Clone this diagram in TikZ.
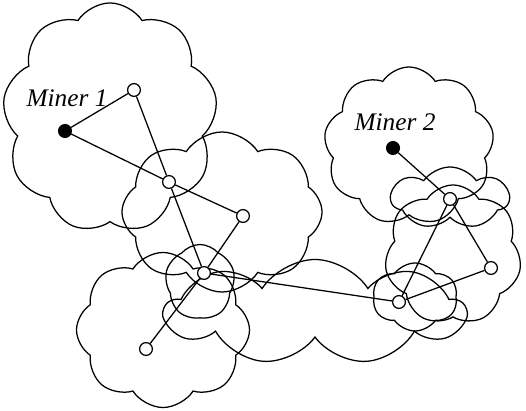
\documentclass[tikz,border=0pt]{standalone}
\usepackage{fontspec}
\setmainfont{Liberation Serif}
\usetikzlibrary{positioning, shapes.symbols}
\tikzset{
  peer/.style={draw, circle, fill=white, inner sep=0pt, minimum size=0.32cm},
  miner/.style={peer, fill=black},
  zone/.style={draw, cloud, cloud puffs=#1, cloud puff arc=115, cloud ignores aspect, inner sep=0pt},
  zone/.default=9,
  label/.style={font=\fontsize{18}{20}\selectfont\itshape}
}

\begin{document}
\begin{tikzpicture}[x=0.025cm, y=-0.025cm, line width=0.9pt]
      \useasboundingbox (0,0) rectangle (526,411);

      % ranges
      \node[zone=9, minimum width=5.375cm, minimum height=5.75cm] (r1) at (110,118) {};
      \node[zone=8, minimum width=5cm, minimum height=4cm] (r2) at (222,212) {};
      \node[zone=5, cloud puff arc=100, minimum width=1.75cm, minimum height=1.875cm] (r3) at (200,282) {};
      \node[zone=8, minimum width=4.325cm, minimum height=3.875cm] (r4) at (163,330) {};
      \node[zone=9, minimum width=7.5cm, minimum height=2.625cm] (r5) at (315,312) {};
      \node[zone=6, cloud puff arc=110, minimum width=2.125cm, minimum height=1.7cm] (r6) at (415,297) {};
      \node[zone=9, minimum width=4.25cm, minimum height=3.95cm] (r7) at (409,146) {};
      \node[zone=7, cloud puff arc=110, minimum width=2.95cm, minimum height=1.55cm] (r8) at (450,198) {};
      \node[zone=7, minimum width=3.425cm, minimum height=3.5cm] (r9) at (453,255) {};

      % peers
      \node[miner] (m1) at (65,131) {};
      \node[peer] (a) at (134,90) {};
      \node[peer] (b) at (169,182) {};
      \node[peer] (c) at (243,216) {};
      \node[peer] (d) at (204,273) {};
      \node[peer] (e) at (146,349) {};
      \node[peer] (f) at (399,302) {};
      \node[peer] (g) at (491,268) {};
      \node[peer] (h) at (450,199) {};
      \node[miner] (m2) at (393,148) {};

      \node[label] (l1) at (67,98) {Miner 1};
      \node[label] (l2) at (395,122) {Miner 2};

      \draw (m1) edge (a)
            (m1) edge (b)
            (a)  edge (b)
            (b)  edge (c)
            (b)  edge (d)
            (c)  edge (d)
            (d)  edge (e)
            (d)  edge (f)
            (f)  edge (h)
            (f)  edge (g)
            (g)  edge (h)
            (m2) edge (h);
    \end{tikzpicture}
\end{document}
